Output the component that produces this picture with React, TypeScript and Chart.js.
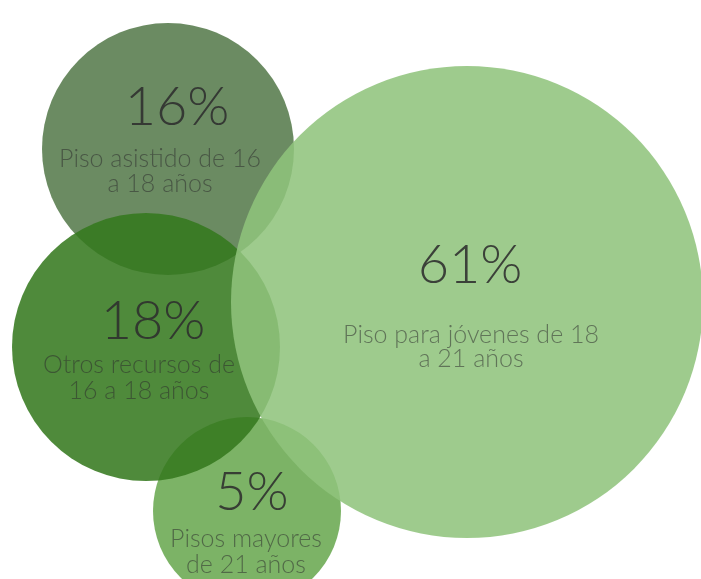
import React, { useEffect, useRef } from "react";
import { Chart, registerables } from "chart.js";

Chart.register(...registerables);

// Drawing order: back to front
const percents = ["16%", "5%", "18%", "61%"];
const values = [16, 5, 18, 61];
const labelLines = [
  ["Piso asistido de 16", "a 18 años"],
  ["Pisos mayores", "de 21 años"],
  ["Otros recursos de", "16 a 18 años"],
  ["Piso para jóvenes de 18", "a 21 años"],
];
const xs = [168, 247, 146, 467];
const ys = [149, 511, 347, 302];
const radii = [126, 94, 134, 236];
const fills = [
  "rgba(85,122,75,0.87)",
  "rgba(105,168,79,0.87)",
  "rgba(53,121,30,0.87)",
  "rgba(144,195,124,0.87)",
];
// text offsets relative to bubble centre: [pctDx, pctDy, labelDx, label1Dy, lineGap]
const textOffsets = [
  [9, -24, -8, 18, 25],
  [5, -1, -1, 36, 26],
  [7, -8, -7, 26, 26],
  [3, -19, 4, 41, 24],
];

const FONT = "Lato, 'Open Sans', sans-serif";

const textPlugin = {
  id: "bubbleText",
  afterDatasetsDraw(chart: any) {
    const ctx = chart.ctx;
    const meta = chart.getDatasetMeta(0);
    ctx.save();
    ctx.textAlign = "center";
    ctx.textBaseline = "alphabetic";
    meta.data.forEach((el: any, i: number) => {
      const { x, y } = el.getProps(["x", "y"], true);
      const o = textOffsets[i];
      ctx.font = `300 54px ${FONT}`;
      ctx.fillStyle = "rgba(45,45,45,0.88)";
      ctx.fillText(percents[i], x + o[0], y + o[1]);
      ctx.font = `300 25px ${FONT}`;
      ctx.fillStyle = "rgba(45,45,45,0.55)";
      labelLines[i].forEach((line, j) => {
        ctx.fillText(line, x + o[2], y + o[3] + j * o[4]);
      });
    });
    ctx.restore();
  },
};

export default function App() {
  const ref = useRef<HTMLCanvasElement>(null);
  useEffect(() => {
    document.body.style.margin = "0";
    const chart = new Chart(ref.current!, {
      type: "bubble",
      data: {
        labels: percents,
        datasets: [
          {
            data: values.map((v, i) => ({ x: xs[i], y: ys[i], r: radii[i], v })),
            backgroundColor: fills,
            borderWidth: 0,
            hoverBorderWidth: 0,
            clip: false as any,
          },
        ],
      },
      options: {
        responsive: false,
        animation: false,
        layout: { padding: 0, autoPadding: false },
        events: [],
        plugins: { legend: { display: false }, tooltip: { enabled: false } },
        scales: {
          x: { type: "linear", min: 0, max: 701, display: false },
          y: { type: "linear", min: 0, max: 579, reverse: true, display: false },
        },
      },
      plugins: [textPlugin],
    });
    return () => chart.destroy();
  }, []);
  return (
    <div style={{ width: 701, height: 579 }}>
      <canvas ref={ref} width={701} height={579} />
    </div>
  );
}
